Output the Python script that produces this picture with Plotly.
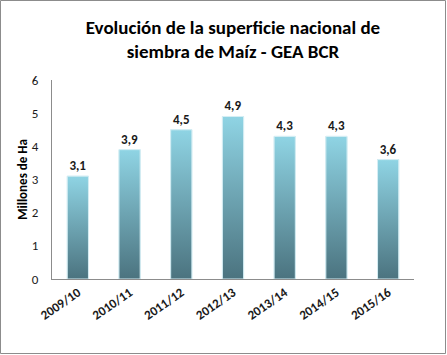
import plotly.graph_objects as go

categories = ["2009/10", "2010/11", "2011/12", "2012/13", "2013/14", "2014/15", "2015/16"]
values = [3.1, 3.9, 4.5, 4.9, 4.3, 4.3, 3.6]
y_ticks = [0, 1, 2, 3, 4, 5, 6]

W, H = 447, 355
ML, MR, MT, MB = 52, 33, 80, 76
FONT = "Carlito, Lato, 'Open Sans', sans-serif"
BAR_W = 0.41

idx = list(range(len(categories)))

fig = go.Figure()
fig.add_trace(go.Bar(
    x=idx, y=values, width=BAR_W,
    marker=dict(color="#6fa6b4", line=dict(color="#d6eef4", width=1)),
    text=values, texttemplate="%{y:.1f}", textposition="outside",
    textfont=dict(family=FONT, size=13, color="#1a1a1a", weight="bold"),
    cliponaxis=False, hoverinfo="skip", showlegend=False,
))
# gradient overlays built from the same data
for i, v in zip(idx, values):
    x0, x1 = i - BAR_W / 2, i + BAR_W / 2
    fig.add_trace(go.Scatter(
        x=[x0, x1, x1, x0, x0], y=[0, 0, v, v, 0],
        mode="lines", fill="toself",
        line=dict(color="#d6eef4", width=1),
        fillgradient=dict(type="vertical",
                          colorscale=[[0, "#4b737f"], [1, "#8fd4e4"]]),
        hoverinfo="skip", showlegend=False,
    ))

pw = W - ML - MR
ph = H - MT - MB
fig.add_shape(type="rect", xref="paper", yref="paper",
              x0=-(ML - 0.5) / pw, x1=1 + (MR - 1.5) / pw,
              y0=-(MB - 1.5) / ph, y1=1 + (MT - 0.5) / ph,
              line=dict(color="#8c8c8c", width=1), layer="below")

fig.update_layout(
    width=W, height=H,
    margin=dict(l=ML, r=MR, t=MT, b=MB, autoexpand=False),
    paper_bgcolor="white", plot_bgcolor="white",
    separators=",.",
    font=dict(family=FONT, size=13, color="#1a1a1a"),
    title=dict(text="Evolución de la superficie nacional de<br>siembra de Maíz - GEA BCR",
               x=0.5, xref="paper", xanchor="center", y=0.905, yanchor="middle",
               font=dict(family=FONT, size=19, color="#000000", weight="bold")),
    xaxis=dict(range=[-0.5, len(categories) - 0.5], tickvals=idx, ticktext=categories,
               tickangle=-35, showgrid=False, zeroline=False, showline=True,
               linecolor="#8c8c8c", linewidth=1, ticks="", automargin=False,
               tickfont=dict(family=FONT, size=13, color="#1a1a1a", weight="bold")),
    yaxis=dict(range=[0, 6], tickvals=y_ticks, showgrid=False, zeroline=False,
               showline=True, linecolor="#8c8c8c", linewidth=1, ticks="",
               ticklabelstandoff=10, automargin=False,
               tickfont=dict(family=FONT, size=13, color="#1a1a1a"),
               title=dict(text="Millones de Ha", standoff=1,
                          font=dict(family=FONT, size=13, color="#000000", weight="bold"))),
)

fig.write_html("out.html", config={"displayModeBar": False},
               post_script="document.body.style.margin='0';document.body.style.padding='0';")
